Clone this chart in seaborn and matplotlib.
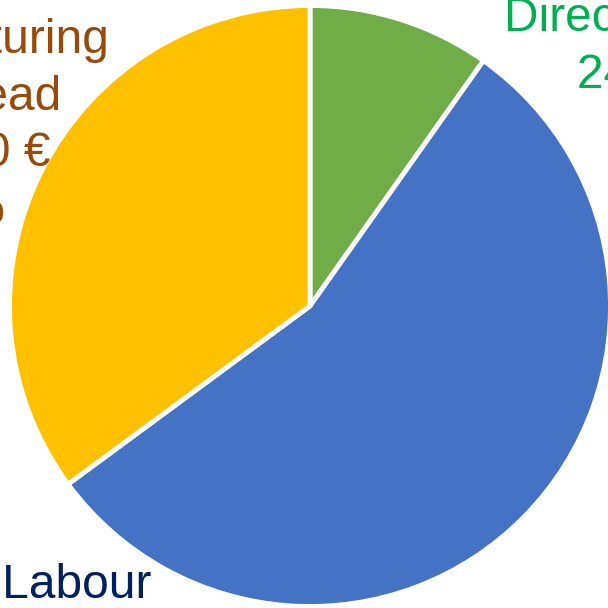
import matplotlib
matplotlib.use("Agg")
import matplotlib.pyplot as plt
import seaborn as sns

categories = ["Direct Materials", "Direct Labour", "Manufacturing\nOverhead"]
values = [24000, 135000, 86000]
slice_colors = ["#70AD47", "#4472C4", "#FFC000"]
label_colors = ["#00B050", "#002060", "#994A0A"]

sns.set_theme(style="white")
plt.rcParams["font.family"] = ["Liberation Sans", "DejaVu Sans"]

fig = plt.figure(figsize=(6.08, 6.08), dpi=100)
ax = fig.add_axes([0, 0, 1, 1])

# pie drawn in pixel-like data units (y up)
cx, cy, r = 310, 302, 300.5
ax.pie(values, colors=slice_colors, startangle=90, counterclock=False,
       center=(cx, cy), radius=r,
       wedgeprops=dict(edgecolor="white", linewidth=3.5))
ax.set_xlim(0, 608)
ax.set_ylim(0, 608)
ax.set_aspect("equal")
ax.axis("off")

total = sum(values)
label_pos = [(670, 612), (8, 45), (-43, 590)]
for cat, val, col, (lx, ly) in zip(categories, values, label_colors, label_pos):
    pct = round(100 * val / total)
    val_txt = f"{val:,}".replace(",", " ")
    ax.text(lx, ly, f"{cat}\n{val_txt} €\n{pct}%", ha="center", va="top",
            multialignment="center", fontsize=34.5, color=col,
            linespacing=1.33)

fig.savefig("out.png", dpi=100)
